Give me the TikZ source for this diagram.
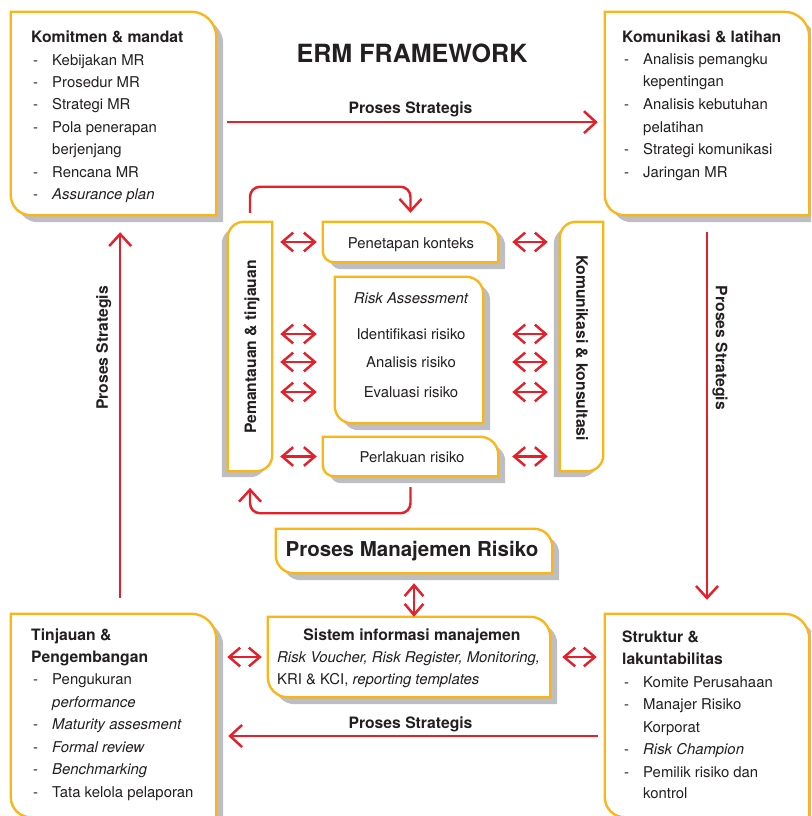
\documentclass[tikz,border=0pt]{standalone}
\usepackage{fontspec}
\setmainfont{TeX Gyre Heros}
\usetikzlibrary{arrows.meta,fit}
\definecolor{ermOrange}{HTML}{FBB516}
\definecolor{ermRed}{HTML}{E4202A}
\definecolor{shadowGray}{HTML}{BDBEC1}
\definecolor{ink}{HTML}{231F20}
\pgfdeclarelayer{background}
\pgfsetlayers{background,main}

% box with rounded top right / bottom left corner, shadow to the lower right
\newcommand{\ermbox}[3]{%
  \fill[shadowGray] ([shift={(7,-7)}]#1.north west) -- ([shift={(7-#2,-7)}]#1.north east)
    arc[start angle=90,end angle=0,radius=#2] -- ([shift={(7,-7)}]#1.south east)
    -- ([shift={(7+#3,-7)}]#1.south west) arc[start angle=270,end angle=180,radius=#3] -- cycle;
  \draw[boxline] (#1.north west) -- ([shift={(-#2,0)}]#1.north east)
    arc[start angle=90,end angle=0,radius=#2] -- (#1.south east)
    -- ([shift={(#3,0)}]#1.south west) arc[start angle=270,end angle=180,radius=#3] -- cycle;
}
% upright box with rounded top left / bottom right corner, shadow to the lower left
\newcommand{\ermside}[2]{%
  \fill[shadowGray] ([shift={(-6,-6-#2)}]#1.north west) arc[start angle=180,end angle=90,radius=#2]
    -- ([shift={(-6,-6)}]#1.north east) -- ([shift={(-6,-6+#2)}]#1.south east)
    arc[start angle=0,end angle=-90,radius=#2] -- ([shift={(-6,-6)}]#1.south west) -- cycle;
  \draw[boxline] ([shift={(0,-#2)}]#1.north west) arc[start angle=180,end angle=90,radius=#2]
    -- (#1.north east) -- ([shift={(0,#2)}]#1.south east)
    arc[start angle=0,end angle=-90,radius=#2] -- (#1.south west) -- cycle;
}

\begin{document}
\begin{tikzpicture}[
  x=0.03cm, y=0.03cm,
  font=\fontsize{12.7}{15}\selectfont, text=ink,
  boxnode/.style={inner sep=0pt},
  boxline/.style={draw=ermOrange,fill=white,line width=2pt},
  boldtext/.style={font=\fontsize{13.4}{15}\selectfont\bfseries},
  listrow/.style={anchor=base west,inner sep=0pt},
  strat/.style={boldtext,inner sep=3.5pt},
  flow/.style={draw=ermRed,line width=2.1pt,-{Straight Barb[length=0.36cm,width=0.66cm]}},
  dbl/.style={draw=ermRed,line width=2.1pt,{Straight Barb[length=0.33cm,width=0.56cm]}-{Straight Barb[length=0.33cm,width=0.56cm]}}
]
  \useasboundingbox (0,0) rectangle (811,-816);

  % boxes
  \node[boxnode, fit={(11,-12) (216,-215)}] (komitmen) {};
  \node[boxnode, fit={(605,-12) (809,-215)}] (latihan) {};
  \node[boxnode, fit={(11,-614) (216,-817)}] (tinjauan) {};
  \node[boxnode, fit={(605,-614) (809,-817)}] (struktur) {};
  \node[boxnode, fit={(228,-222) (272,-471)}] (pemantauan) {};
  \node[boxnode, fit={(560,-222) (603,-471)}] (komunikasi) {};
  \node[boxnode, fit={(323,-222) (498,-262)}] (penetapan) {};
  \node[boxnode, fit={(335,-277) (483,-423)}] (assess) {};
  \node[boxnode, fit={(323,-437) (498,-476)}] (perlakuan) {};
  \node[boxnode, fit={(276,-529) (552,-573)}] (pmr) {};
  \node[boxnode, fit={(268,-617) (550,-697)}] (sim) {};

  \node[font=\fontsize{21.4}{24}\selectfont\bfseries] (erm) at (412,-53) {ERM FRAMEWORK};

  % corner lists
  \node[boldtext, listrow] (komitmen-title) at (31,-42.5) {Komitmen \& mandat};
  \foreach \yy/\mk/\itm [count=\i] in {66/-/Kebijakan MR, 88/-/Prosedur MR, 110/-/Strategi MR,
      133/-/Pola penerapan, 155//berjenjang, 177/-/Rencana MR, 199/-/\textit{Assurance plan}}
    \node[listrow] (komitmen-\i) at (33,-\yy) {\makebox[.57cm][l]{\mk}\itm};

  \node[boldtext, listrow] (latihan-title) at (622,-42.5) {Komunikasi \& latihan};
  \foreach \yy/\mk/\itm [count=\i] in {65/-/Analisis pemangku, 87//kepentingan, 110/-/Analisis kebutuhan,
      132//pelatihan, 155/-/Strategi komunikasi, 177/-/Jaringan MR}
    \node[listrow] (latihan-\i) at (624,-\yy) {\makebox[.57cm][l]{\mk}\itm};

  \node[boldtext, listrow] (tinjauan-title) at (31,-640.5) {Tinjauan \&};
  \node[boldtext, listrow] (tinjauan-title2) at (31,-662.5) {Pengembangan};
  \foreach \yy/\mk/\itm [count=\i] in {684.5/-/Pengukuran, 707.5//\textit{performance},
      729.5/-/\textit{Maturity assesment}, 752.5/-/\textit{Formal review},
      774.5/-/\textit{Benchmarking}, 797.5/-/Tata kelola pelaporan}
    \node[listrow] (tinjauan-\i) at (33,-\yy) {\makebox[.57cm][l]{\mk}\itm};

  \node[boldtext, listrow] (struktur-title) at (622,-642.5) {Struktur \&};
  \node[boldtext, listrow] (struktur-title2) at (622,-664.5) {lakuntabilitas};
  \foreach \yy/\mk/\itm [count=\i] in {687.5/-/Komite Perusahaan, 709.5/-/Manajer Risiko,
      732.5//Korporat, 754.5/-/\textit{Risk Champion}, 777.5/-/Pemilik risiko dan, 798.5//kontrol}
    \node[listrow] (struktur-\i) at (624,-\yy) {\makebox[.57cm][l]{\mk}\itm};

  % centre texts
  \node[boldtext, rotate=90] (pemantauan-text) at (252,-347) {Pemantauan \& tinjauan};
  \node[boldtext, rotate=-90] (komunikasi-text) at (582,-348) {Komunikasi \& konsultasi};
  \node (penetapan-text) at (411,-244.5) {Penetapan konteks};
  \node[font=\fontsize{12.7}{15}\selectfont\itshape] (assess-title) at (411,-298) {Risk Assessment};
  \node (ident) at (411,-334) {Identifikasi risiko};
  \node (analisis) at (411,-362) {Analisis risiko};
  \node (evaluasi) at (411,-392) {Evaluasi risiko};
  \node (perlakuan-text) at (412,-457) {Perlakuan risiko};
  \node[font=\fontsize{17.5}{20}\selectfont\bfseries] (pmr-text) at (412,-551.5) {Proses Manajemen Risiko};

  \node[boldtext, anchor=base, inner sep=0pt] (sim-title) at (412,-640.5) {Sistem informasi manajemen};
  \node[listrow] (sim-line1) at (277,-662.5) {\textit{Risk Voucher, Risk Register, Monitoring,}};
  \node[listrow] (sim-line2) at (277,-684.5) {KRI \& KCI, \textit{reporting templates}};

  % proses strategis
  \draw[flow, shorten <=0.33cm, shorten >=0.21cm] ([yshift=-0.26cm]komitmen.east) -- ([yshift=-0.26cm]latihan.west)
    node[midway, above, strat] (strat-top) {Proses Strategis};
  \draw[flow, shorten <=0.51cm, shorten >=0.42cm] (latihan.south) -- (struktur.north)
    node[pos=.333, rotate=-90, anchor=south, strat] (strat-right) {Proses Strategis};
  \draw[flow, shorten <=0.21cm, shorten >=0.36cm] ([yshift=-0.615cm]struktur.west) -- ([yshift=-0.615cm]tinjauan.east)
    node[midway, above, strat, inner sep=2.6pt] (strat-bottom) {Proses Strategis};
  \draw[flow, shorten <=0.48cm, shorten >=0.51cm] ([xshift=0.2cm]tinjauan.north) -- ([xshift=0.2cm]komitmen.south)
    node[pos=.667, rotate=90, anchor=south, strat, inner sep=6.5pt] (strat-left) {Proses Strategis};

  % monitoring loop
  \draw[flow, rounded corners=0.3cm, shorten <=0.27cm, shorten >=0.27cm]
    (pemantauan.north) -- ++(0,35) -| (penetapan.north);
  \draw[flow, rounded corners=0.3cm, shorten <=0.33cm, shorten >=0.5cm]
    (perlakuan.south) -- ++(0,-37) -| (pemantauan.south);

  \foreach \row in {penetapan,ident,analisis,evaluasi,perlakuan} {
    \draw[dbl, shorten <=0.24cm, shorten >=0.18cm] (pemantauan.east |- \row) -- (penetapan.west |- \row);
    \draw[dbl, shorten <=0.42cm, shorten >=0.36cm] (penetapan.east |- \row) -- (komunikasi.west |- \row);
  }
  \draw[dbl, shorten <=0.3cm] (pmr.south) -- (pmr.south |- sim.north);
  \draw[dbl, shorten <=0.18cm, shorten >=0.33cm] (sim.west) -- (tinjauan.east |- sim.west);
  \draw[dbl, shorten <=0.36cm, shorten >=0.24cm] (sim.east) -- (struktur.west |- sim.east);

  \begin{pgfonlayer}{background}
    \begin{scope}
      \clip (0,0) rectangle (811,-816);
      \ermbox{komitmen}{25}{20}
      \ermbox{latihan}{25}{20}
      \ermbox{tinjauan}{25}{20}
      \ermbox{struktur}{25}{20}
      \ermbox{penetapan}{18}{11}
      \ermbox{assess}{17}{17}
      \ermbox{perlakuan}{18}{11}
      \ermbox{pmr}{18}{18}
      \ermbox{sim}{20}{20}
      \ermside{pemantauan}{16}
      \ermside{komunikasi}{16}
    \end{scope}
  \end{pgfonlayer}
\end{tikzpicture}
\end{document}
